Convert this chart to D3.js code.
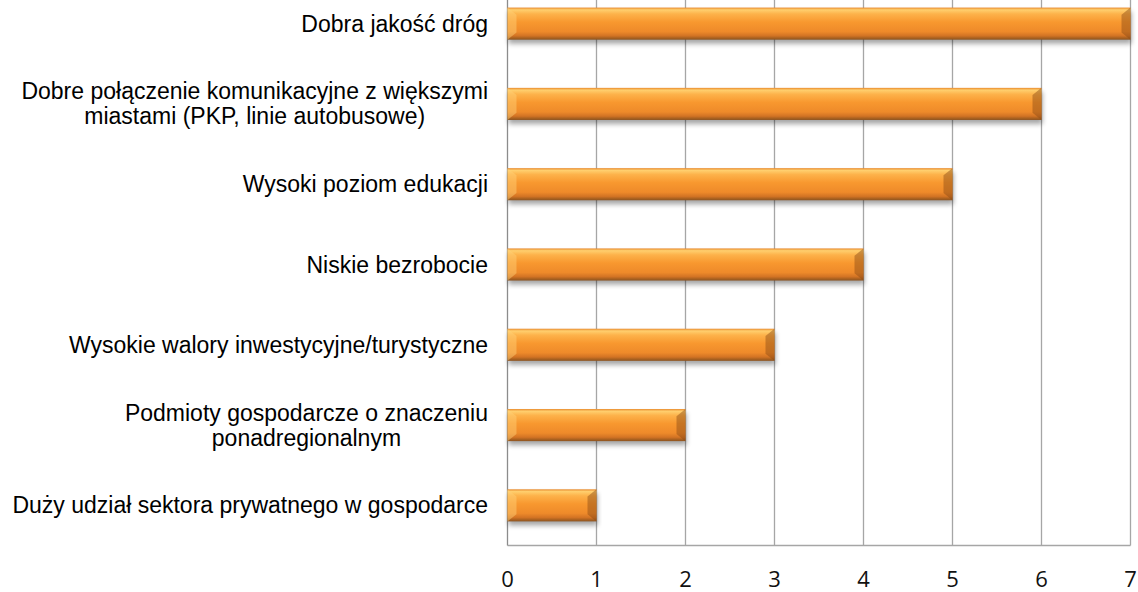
<!DOCTYPE html>
<html>
<head>
<meta charset="utf-8">
<script src="https://cdn.jsdelivr.net/npm/d3@7"></script>
<style>
  html, body { margin: 0; padding: 0; background: #fff; }
  svg { display: block; }
</style>
</head>
<body>
<svg id="chart" width="1138" height="592"></svg>
<script>
// chart data
const categories = [
    ["Dobra jakość dróg"],
    ["Dobre połączenie komunikacyjne z większymi", "miastami (PKP, linie autobusowe)"],
    ["Wysoki poziom edukacji"],
    ["Niskie bezrobocie"],
    ["Wysokie walory inwestycyjne/turystyczne"],
    ["Podmioty gospodarcze o znaczeniu", "ponadregionalnym"],
    ["Duży udział sektora prywatnego w gospodarce"]
];
const values = [7, 6, 5, 4, 3, 2, 1];
const tickValues = [0, 1, 2, 3, 4, 5, 6, 7];

(function() {
let plotLeft = 507.5, plotRight = 1130.5, plotTop = -16.5, plotBottom = 545.5;
let svg = d3.select("#chart");

let x = d3.scaleLinear().domain([0, 7]).range([plotLeft, plotRight]);
let y = d3.scaleBand()
          .domain(d3.range(categories.length))
          .range([plotTop, plotBottom])
          .paddingInner(0.6)
          .paddingOuter(0.3);

let defs = svg.append("defs");

// bar body gradient (vertical)
let grad = defs.append("linearGradient")
               .attr("id", "barGrad")
               .attr("x1", 0).attr("y1", 0).attr("x2", 0).attr("y2", 1);
[
    [0, "#E98A2C"], [0.07, "#FFCF6E"], [0.2, "#FDB24A"], [0.45, "#F8982F"],
    [0.75, "#EE8A2A"], [0.88, "#D27324"], [0.95, "#A8601F"], [1, "#8C5422"]
].forEach(function(s) {
    grad.append("stop").attr("offset", s[0]).attr("stop-color", s[1]);
});

let shadow = defs.append("filter").attr("id", "shadow")
                 .attr("x", "-5%").attr("y", "-30%").attr("width", "110%").attr("height", "180%");
shadow.append("feGaussianBlur").attr("stdDeviation", 2.5);

// grid
let grid = svg.append("g");
grid.selectAll("line.grid")
    .data(tickValues.slice(1))
    .enter().append("line")
    .attr("class", "grid")
    .attr("x1", d => x(d)).attr("x2", d => x(d))
    .attr("y1", 0).attr("y2", plotBottom)
    .attr("stroke", "#A6A6A6").attr("stroke-width", 1.3);

grid.append("line")
    .attr("x1", plotLeft).attr("x2", plotRight)
    .attr("y1", plotBottom).attr("y2", plotBottom)
    .attr("stroke", "#A6A6A6").attr("stroke-width", 1.3);

grid.append("line")
    .attr("x1", plotLeft).attr("x2", plotLeft)
    .attr("y1", 0).attr("y2", plotBottom)
    .attr("stroke", "#8C8C8C").attr("stroke-width", 1.3);

// bars
let bars = svg.append("g").selectAll("g.bar")
              .data(values)
              .enter().append("g")
              .attr("class", "bar");

bars.append("rect")
    .attr("x", x(0) + 1)
    .attr("y", (d, i) => y(i) + 4)
    .attr("width", d => x(d) - x(0))
    .attr("height", y.bandwidth())
    .attr("fill", "#000")
    .attr("opacity", 0.35)
    .attr("filter", "url(#shadow)");

bars.append("rect")
    .attr("x", x(0))
    .attr("y", (d, i) => y(i))
    .attr("width", d => x(d) - x(0))
    .attr("height", y.bandwidth())
    .attr("fill", "url(#barGrad)");

// bevelled ends
let bev = 9;
bars.append("path")
    .attr("d", function(d, i) {
        let x0 = x(0), y0 = y(i), h = y.bandwidth();
        return "M" + x0 + "," + y0 + " L" + (x0 + bev) + "," + (y0 + bev * 0.8) +
               " L" + (x0 + bev) + "," + (y0 + h - bev * 0.8) + " L" + x0 + "," + (y0 + h) + " Z";
    })
    .attr("fill", "#FFD27A").attr("opacity", 0.45);

bars.append("path")
    .attr("d", function(d, i) {
        let x1 = x(d), y0 = y(i), h = y.bandwidth();
        return "M" + x1 + "," + y0 + " L" + (x1 - bev) + "," + (y0 + bev * 0.8) +
               " L" + (x1 - bev) + "," + (y0 + h - bev * 0.8) + " L" + x1 + "," + (y0 + h) + " Z";
    })
    .attr("fill", "#8A4A14").attr("opacity", 0.45);

// category labels: block right aligned, lines centred inside the block
let labelFont = "23px 'Liberation Sans', Arial, sans-serif";
let labels = svg.append("g");
let lineH = 25;
categories.forEach(function(lines, i) {
    let g = labels.append("g");
    let texts = g.selectAll("text").data(lines).enter().append("text")
                 .attr("y", (d, j) => y(i) + y.bandwidth() / 2 + (j - (lines.length - 1) / 2) * lineH)
                 .attr("dy", "0.35em")
                 .attr("text-anchor", "middle")
                 .style("font", labelFont)
                 .attr("fill", "#000")
                 .text(d => d);
    let maxW = d3.max(texts.nodes(), n => n.getComputedTextLength());
    texts.attr("x", 488 - maxW / 2);
});

// x tick labels
svg.append("g").selectAll("text.tick")
   .data(tickValues)
   .enter().append("text")
   .attr("class", "tick")
   .attr("x", d => x(d))
   .attr("y", 579)
   .attr("dy", "0.35em")
   .attr("text-anchor", "middle")
   .style("font", "22px 'Open Sans', 'DejaVu Sans', sans-serif")
   .attr("fill", "#111")
   .text(d => d);
})();
</script>
</body>
</html>
